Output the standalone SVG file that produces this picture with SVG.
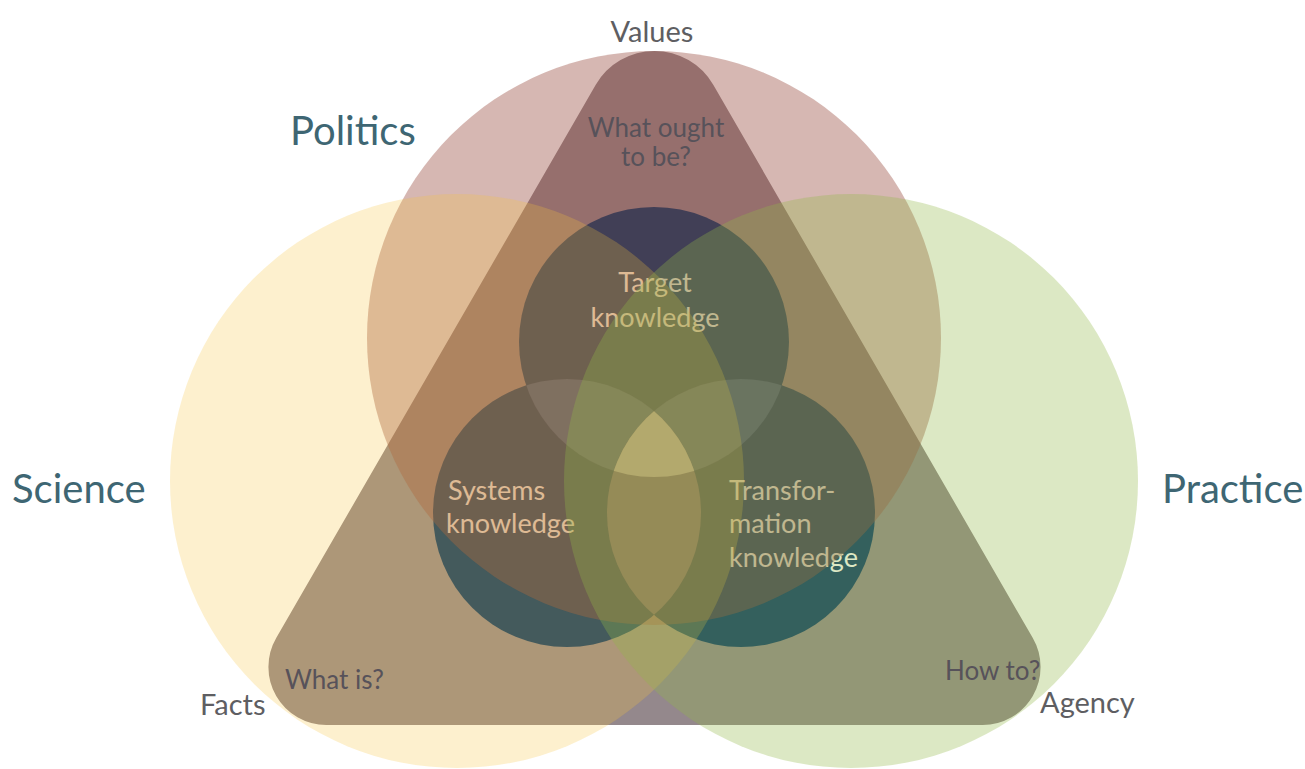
<svg xmlns="http://www.w3.org/2000/svg" width="1305" height="769" viewBox="0 0 1305 769">
  <style>
    .outer { font-family: Lato, "Noto Sans", "DejaVu Sans", sans-serif; font-size: 40px; fill: #3E6673; }
    .pole { font-family: Lato, "Noto Sans", "DejaVu Sans", sans-serif; font-size: 29px; fill: #5E5E62; }
    .q { font-family: Lato, "Noto Sans", "DejaVu Sans", sans-serif; font-size: 26px; fill: #57525A; }
    .k { font-family: Lato, "Noto Sans", "DejaVu Sans", sans-serif; font-size: 27px; fill: #FFFFFF; }
    .kc { fill: #083767; }
  </style>
  <defs>
    <clipPath id="cTarget"><circle cx="654" cy="342" r="135"/></clipPath>
    <clipPath id="cSys"><circle cx="567" cy="513" r="134"/></clipPath>
  </defs>
  <rect x="0" y="0" width="1305" height="769" fill="#FFFFFF"/>

  <g id="triangle">
    <path d="M595.6,85 L276.2,638 A58,58 0 0 0 326.5,725 L982.5,725 A58,58 0 0 0 1032.8,638 L713.4,85 A68,68 0 0 0 595.6,85 Z" fill="#94888C"/>
  </g>

  <g id="target-knowledge">
    <circle class="kc" cx="654" cy="342" r="135"/>
    <text class="k" x="655" y="292" text-anchor="middle">Target</text>
    <text class="k" x="655" y="327" text-anchor="middle">knowledge</text>
  </g>
  <g id="systems-knowledge">
    <circle class="kc" cx="567" cy="513" r="134"/>
    <text class="k" x="448" y="500">Systems</text>
    <text class="k" x="446" y="533">knowledge</text>
  </g>
  <g id="transformation-knowledge">
    <circle class="kc" cx="741" cy="513" r="134"/>
    <text class="k" x="729" y="500">Transfor-</text>
    <text class="k" x="729" y="533">mation</text>
    <text class="k" x="729" y="567">knowledge</text>
  </g>
  <g id="knowledge-overlaps">
    <g clip-path="url(#cTarget)">
      <circle cx="567" cy="513" r="134" fill="#2C5A8A"/>
      <circle cx="741" cy="513" r="134" fill="#2C5A8A"/>
    </g>
    <g clip-path="url(#cSys)">
      <circle cx="741" cy="513" r="134" fill="#626989"/>
    </g>
    <g clip-path="url(#cTarget)">
      <g clip-path="url(#cSys)">
        <circle cx="741" cy="513" r="134" fill="#C4CCD1"/>
      </g>
    </g>
  </g>

  <g id="politics">
    <circle cx="654" cy="338" r="287" fill="#984B3E" fill-opacity="0.4"/>
    <text class="outer" x="290" y="145">Politics</text>
  </g>
  <g id="science">
    <circle cx="457" cy="481" r="287" fill="#F8C43C" fill-opacity="0.25"/>
    <text class="outer" x="12" y="503">Science</text>
  </g>
  <g id="practice">
    <circle cx="851" cy="481" r="287" fill="#93B848" fill-opacity="0.32"/>
    <text class="outer" x="1162" y="503">Practice</text>
  </g>

  <g id="triangle-labels">
    <text class="pole" x="652" y="42" text-anchor="middle">Values</text>
    <text class="pole" x="200" y="715">Facts</text>
    <text class="pole" x="1040" y="713">Agency</text>
    <text class="q" x="656" y="137" text-anchor="middle">What ought</text>
    <text class="q" x="656" y="166" text-anchor="middle">to be?</text>
    <text class="q" x="285" y="689">What is?</text>
    <text class="q" x="945" y="680">How to?</text>
  </g>

  <g id="connectors"/>
</svg>
